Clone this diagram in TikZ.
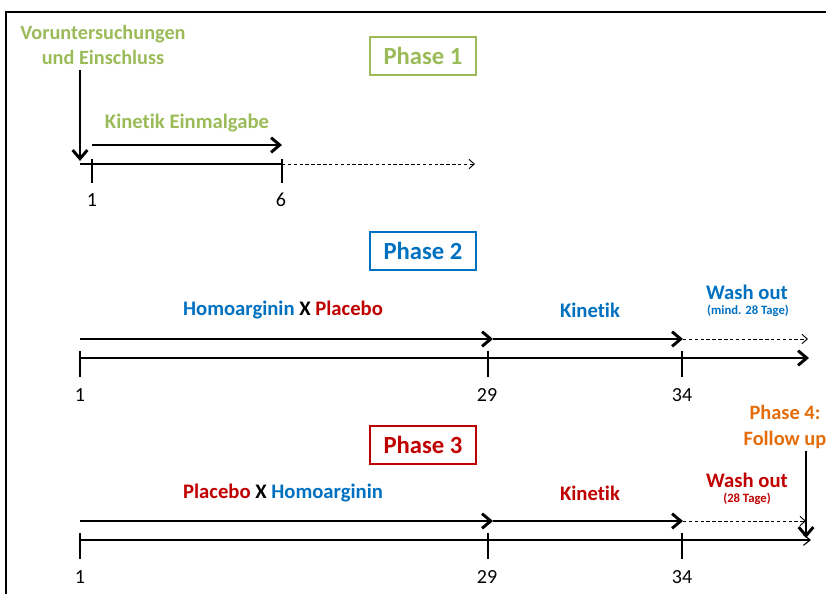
\documentclass[tikz,border=0pt]{standalone}
\usepackage{fontspec}
\setmainfont[Ligatures=NoCommon]{Carlito}
\usetikzlibrary{arrows.meta}
\definecolor{pgreen}{HTML}{9BBB59}
\definecolor{pblue}{HTML}{0070C0}
\definecolor{pred}{HTML}{C00000}
\definecolor{porange}{HTML}{E46C0A}
\tikzset{
  lbl/.style={font=\fontsize{15.5}{17}\selectfont\bfseries, inner sep=0pt},
  small/.style={font=\fontsize{9.5}{11}\selectfont\bfseries, inner sep=0pt},
  num/.style={font=\fontsize{15}{17}\selectfont, inner sep=0pt},
  phasebox/.style={draw, line width=1.5pt, minimum width=79pt, minimum height=29pt, inner sep=0pt, font=\fontsize{18.5}{20}\selectfont\bfseries},
  thickarrow/.style={line width=2.2pt, -{Straight Barb[length=6.5pt,width=11pt,line width=2.2pt]}},
  thickline/.style={line width=2.2pt},
  tick/.style={line width=2pt},
  dasharrow/.style={line width=0.7pt, dash pattern=on 2.6pt off 1.8pt, -{Straight Barb[length=4pt,width=7pt,line width=0.7pt]}},
  thinarrow/.style={line width=2.2pt, -{Straight Barb[length=5pt,width=8pt,line width=0.8pt]}},
}
\begin{document}
\begin{tikzpicture}[x=0.75pt,y=-0.75pt]
\useasboundingbox (0,0) rectangle (826,594);
% frame
\coordinate (fbl) at (6,594);
\coordinate (ftl) at (6,12);
\coordinate (ftr) at (826,12);
\draw[line width=1.6pt] (fbl) -- (ftl) -- (ftr);

% ---------- Phase 1 ----------
\node[phasebox, draw=pgreen, text=pgreen] (ph1) at (423,56) {Phase 1};
\node[lbl, text=pgreen, align=center, font=\fontsize{15.2}{18.5}\selectfont\bfseries] (vor) at (103,45) {Voruntersuchungen\\und Einschluss};
\coordinate (v1a) at (80,70);
\coordinate (v1b) at (80,161);
\draw[thickarrow] (v1a) -- (v1b);
\node[lbl, text=pgreen] (kin1) at (187,123) {Kinetik Einmalgabe};
\coordinate (a1s) at (92,145);
\coordinate (a1e) at (282,145);
\draw[thickarrow] (a1s) -- (a1e);
\coordinate (t1s) at (80,164);
\coordinate (t1e) at (282,164);
\draw[thickline] (t1s) -- (t1e);
\coordinate (k1a) at (92,159); \coordinate (k1b) at (92,183);
\coordinate (k6a) at (282,159); \coordinate (k6b) at (282,183);
\draw[tick] (k1a) -- (k1b);
\draw[tick] (k6a) -- (k6b);
\coordinate (d1e) at (475,164);
\draw[dasharrow] (t1e) -- (d1e);
\node[num] (n1a) at (92,200) {1};
\node[num] (n1b) at (281,200) {6};

% ---------- Phase 2 ----------
\node[phasebox, draw=pblue, text=pblue] (ph2) at (423,251) {Phase 2};
\node[lbl] (hp) at (283,310) {\textcolor{pblue}{Homoarginin} X \textcolor{pred}{Placebo}};
\node[lbl, text=pblue] (kin2) at (590,310) {Kinetik};
\node[lbl, text=pblue] (wo2) at (747,292) {Wash out};
\node[small, text=pblue] (md2) at (748,311) {(mind. 28 Tage)};
\coordinate (b2s) at (80,339);
\coordinate (b2m) at (493,339);
\coordinate (b2k) at (683,339);
\coordinate (b2e) at (808,339);
\draw[thickarrow] (b2s) -- (b2m);
\draw[thickarrow] (b2m) -- (b2k);
\draw[dasharrow] (b2k) -- (b2e);
\coordinate (t2s) at (80,358);
\coordinate (t2e) at (809,358);
\draw[thickarrow] (t2s) -- (t2e);
\foreach \x/\n in {80/a,488/b,682/c}{
  \coordinate (k2\n a) at (\x,351);
  \coordinate (k2\n b) at (\x,377);
  \draw[tick] (k2\n a) -- (k2\n b);
}
\node[num] (n2a) at (80,395) {1};
\node[num] (n2b) at (487,395) {29};
\node[num] (n2c) at (682,395) {34};

% ---------- Phase 3 ----------
\node[phasebox, draw=pred, text=pred] (ph3) at (423,445) {Phase 3};
\node[lbl, text=porange, align=center, font=\fontsize{15.3}{19}\selectfont\bfseries] (ph4) at (785,427) {Phase 4:\\Follow up};
\coordinate (v4a) at (806,451);
\coordinate (v4b) at (806,538);
\draw[thickarrow] (v4a) -- (v4b);
\node[lbl] (ph) at (283,493) {\textcolor{pred}{Placebo} X \textcolor{pblue}{Homoarginin}};
\node[lbl, text=pred] (kin3) at (590,493) {Kinetik};
\node[lbl, text=pred] (wo3) at (747,480) {Wash out};
\node[small, text=pred] (md3) at (747,499) {(28 Tage)};
\coordinate (b3s) at (80,521);
\coordinate (b3m) at (493,521);
\coordinate (b3k) at (683,521);
\coordinate (b3e) at (806,521);
\draw[thickarrow] (b3s) -- (b3m);
\draw[thickarrow] (b3m) -- (b3k);
\draw[dasharrow] (b3k) -- (b3e);
\coordinate (t3s) at (80,540);
\coordinate (t3e) at (811,540);
\draw[thinarrow] (t3s) -- (t3e);
\foreach \x/\n in {80/a,488/b,682/c}{
  \coordinate (k3\n a) at (\x,533);
  \coordinate (k3\n b) at (\x,559);
  \draw[tick] (k3\n a) -- (k3\n b);
}
\node[num] (n3a) at (80,577) {1};
\node[num] (n3b) at (487,577) {29};
\node[num] (n3c) at (682,577) {34};
\end{tikzpicture}
\end{document}
